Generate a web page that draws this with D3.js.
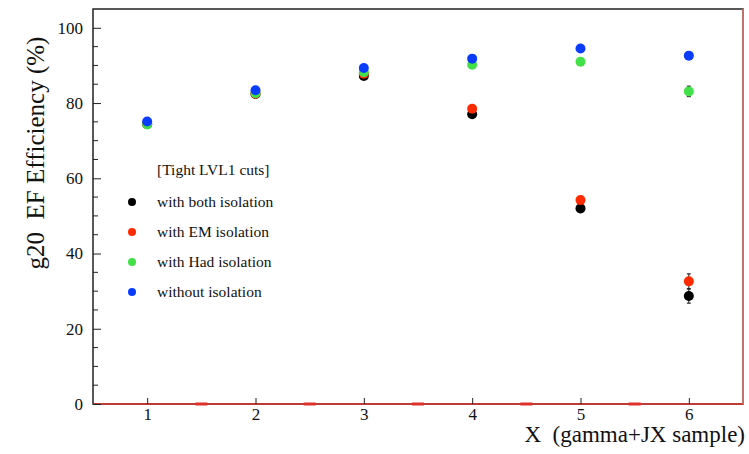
<!DOCTYPE html>
<html lang="en">
<head>
<meta charset="utf-8">
<title>g20 EF Efficiency</title>
<script src="https://cdn.jsdelivr.net/npm/d3@7"></script>
<style>
body { margin: 0; background: #fff; }
text { font-family: "Liberation Serif", "DejaVu Serif", serif; fill: #111; white-space: pre; }
</style>
</head>
<body>
<script>
// data
var samples = [1, 2, 3, 4, 5, 6];
var seriesNames = ["with both isolation", "with EM isolation", "with Had isolation", "without isolation"];
var seriesColors = ["#000000", "#ff2a00", "#44e04a", "#0a3cff"];
var bothIso = [74.4, 82.4, 87.2, 77.0, 52.0, 28.7];
var emIso   = [74.5, 82.5, 87.8, 78.5, 54.2, 32.6];
var hadIso  = [74.3, 82.6, 88.2, 90.2, 91.0, 83.1];
var noIso   = [75.1, 83.4, 89.3, 91.8, 94.5, 92.6];
var errs = [
  [0.4, 0.4, 0.5, 0.6, 0.8, 1.9],
  [0.4, 0.4, 0.5, 0.6, 0.8, 2.0],
  [0.3, 0.3, 0.4, 0.4, 0.4, 1.4],
  [0.3, 0.3, 0.3, 0.3, 0.3, 0.5]
];
var yTicks = [0, 20, 40, 60, 80, 100];

var w = 749, h = 454;
var m = { left: 93, right: 743, top: 9, bottom: 404 };

var svg = d3.select("body").append("svg")
  .attr("width", w).attr("height", h);

var x = d3.scaleLinear().domain([0.5, 6.5]).range([m.left, m.right]);
var y = d3.scaleLinear().domain([0, 105]).range([m.bottom, m.top]);

//frame
svg.append("rect")
  .attr("x", m.left).attr("y", m.top)
  .attr("width", m.right - m.left).attr("height", m.bottom - m.top)
  .attr("fill", "none").attr("stroke", "#222").attr("stroke-width", 1.5);
svg.append("line")
  .attr("x1", m.left).attr("x2", m.right).attr("y1", m.bottom).attr("y2", m.bottom)
  .attr("stroke", "#e0302a").attr("stroke-width", 1.5);
svg.append("line")
  .attr("x1", m.right).attr("x2", m.right).attr("y1", m.top).attr("y2", m.bottom)
  .attr("stroke", "#e87a70").attr("stroke-width", 1.5);

//y axis (ticks inside)
var yAxis = d3.axisLeft(y).tickValues(yTicks).tickSize(-8).tickPadding(10);
var gy = svg.append("g").attr("transform", "translate(" + m.left + ",0)").call(yAxis);
gy.select(".domain").remove();
gy.attr("font-size", 17).attr("font-family", null);
gy.selectAll("line").attr("stroke", "#222");
svg.append("g").selectAll("line")
  .data(d3.range(5, 105, 5).filter(function(d) { return d % 20 != 0; }))
  .enter().append("line")
  .attr("x1", m.left).attr("x2", m.left + 5)
  .attr("y1", function(d) { return y(d); }).attr("y2", function(d) { return y(d); })
  .attr("stroke", "#222");

//x axis
var xAxis = d3.axisBottom(x).tickValues(samples).tickSize(-6).tickPadding(4)
  .tickFormat(d3.format("d"));
var gx = svg.append("g").attr("transform", "translate(0," + m.bottom + ")").call(xAxis);
gx.select(".domain").remove();
gx.attr("font-size", 17).attr("font-family", null);
gx.selectAll("line").attr("stroke", "#222");
svg.append("g").selectAll("line")
  .data([1.5, 2.5, 3.5, 4.5, 5.5])
  .enter().append("line")
  .attr("x1", function(d) { return x(d) - 6; }).attr("x2", function(d) { return x(d) + 6; })
  .attr("y1", m.bottom).attr("y2", m.bottom)
  .attr("stroke", "#e0302a").attr("stroke-width", 3);

//titles
svg.append("text")
  .attr("transform", "translate(44,153) rotate(-90)")
  .attr("text-anchor", "middle")
  .attr("font-size", 25)
  .text("g20  EF Efficiency (%)");
svg.append("text")
  .attr("x", 745).attr("y", 442)
  .attr("text-anchor", "end")
  .attr("font-size", 23)
  .text("X  (gamma+JX sample)");

//points with error bars
var series = [bothIso, emIso, hadIso, noIso];
series.forEach(function(vals, s) {
  var pts = samples.map(function(d, i) { return { x: d, y: vals[i], e: errs[s][i] }; });
  var g = svg.append("g");
  g.selectAll("path.err").data(pts).enter().append("path")
    .attr("class", "err")
    .attr("d", function(d) {
      var cx = x(d.x), y1 = y(d.y + d.e), y2 = y(d.y - d.e);
      return "M" + cx + "," + y1 + "V" + y2 +
        "M" + (cx - 2) + "," + y1 + "H" + (cx + 2) +
        "M" + (cx - 2) + "," + y2 + "H" + (cx + 2);
    })
    .attr("stroke", "#111").attr("stroke-width", 1).attr("fill", "none");
  g.selectAll("circle").data(pts).enter().append("circle")
    .attr("cx", function(d) { return x(d.x); })
    .attr("cy", function(d) { return y(d.y); })
    .attr("r", 5)
    .attr("fill", seriesColors[s]);
});

//legend
var leg = svg.append("g");
leg.append("text").attr("x", 157).attr("y", 175).attr("font-size", 15.5).text("[Tight LVL1 cuts]");
var items = leg.selectAll("g.item").data(seriesNames).enter().append("g")
  .attr("transform", function(d, i) { return "translate(0," + (202 + i * 30) + ")"; });
items.append("circle").attr("cx", 132).attr("cy", 0).attr("r", 4)
  .attr("fill", function(d, i) { return seriesColors[i]; });
items.append("text").attr("x", 157).attr("y", 5).attr("font-size", 15.5)
  .text(function(d) { return d; });
</script>
</body>
</html>
